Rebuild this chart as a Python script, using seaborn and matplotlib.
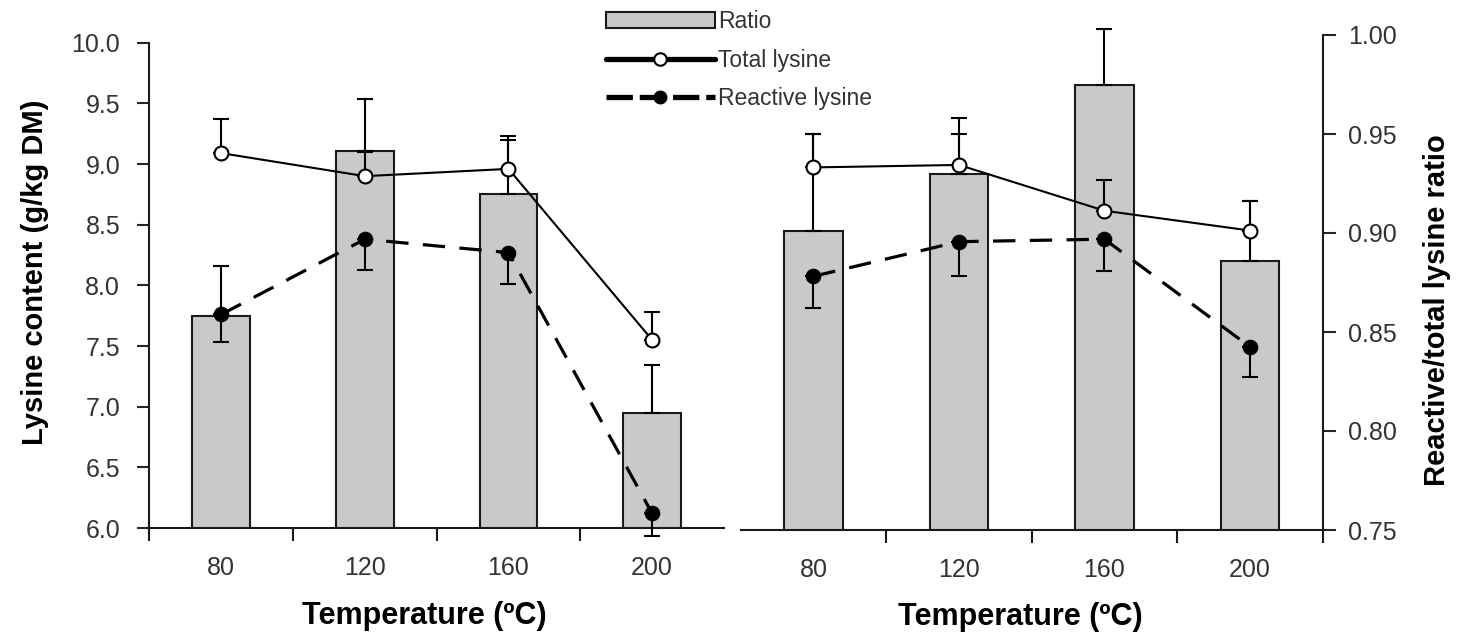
import numpy as np
import pandas as pd
import matplotlib
matplotlib.use('Agg')
import matplotlib.pyplot as plt
from matplotlib.patches import Patch
from matplotlib.lines import Line2D
import seaborn as sns

# ---- data ----
temps = ['80', '120', '160', '200']

# left panel
ratio_a = [0.859, 0.944, 0.922, 0.809]
ratio_a_err = [0.026, 0.027, 0.030, 0.025]
total_a = [9.09, 8.90, 8.96, 7.55]
total_a_err = [0.28, 0.20, 0.24, 0.23]
reactive_a = [7.76, 8.38, 8.27, 6.12]
reactive_a_err = [0.23, 0.25, 0.26, 0.19]

# right panel
ratio_b = [0.901, 0.930, 0.975, 0.886]
ratio_b_err = [0.049, 0.028, 0.028, 0.030]
total_b = [8.93, 8.95, 8.58, 8.42]
total_b_err = [0.27, 0.25, 0.25, 0.24]
reactive_b = [8.05, 8.33, 8.35, 7.48]
reactive_b_err = [0.26, 0.28, 0.26, 0.24]

sns.set_theme(style='ticks')
plt.rcParams['font.family'] = ['Liberation Sans', 'DejaVu Sans']

BAR_COLOR = '#c8c9cb'
TICK_COLOR = '#333333'
LW = 1.5

fig = plt.figure(figsize=(14.61, 6.33), dpi=100)
ax_a = fig.add_axes([149.3 / 1461, 105 / 633, 574.7 / 1461, 485.3 / 633])
ax_b = fig.add_axes([740.7 / 1461, 103 / 633, 582 / 1461, 495 / 633])


def no_clip(container):
    for art in container.get_children():
        art.set_clip_on(False)


def draw_panel(ax, ratio, ratio_err, total, total_err, reactive, reactive_err):
    pos = np.arange(len(temps))
    df = pd.DataFrame({'temp': temps, 'ratio': ratio})
    sns.barplot(data=df, x='temp', y='ratio', ax=ax, color=BAR_COLOR, saturation=1,
                edgecolor='#1a1a1a', linewidth=LW, width=0.4, errorbar=None)
    eb = ax.errorbar(pos, ratio, yerr=[np.zeros(4), ratio_err], fmt='none', ecolor='black',
                     elinewidth=LW, capsize=5.5, capthick=LW)
    no_clip(eb)
    ax.set_ylim(0.75, 1.00)
    ax.set_xlim(-0.5, 3.5)

    tw = ax.twinx()
    eb = tw.errorbar(pos, total, yerr=[np.zeros(4), total_err], fmt='none', ecolor='black',
                     elinewidth=LW, capsize=5.5, capthick=LW, zorder=2)
    no_clip(eb)
    eb = tw.errorbar(pos, reactive, yerr=[reactive_err, np.zeros(4)], fmt='none', ecolor='black',
                     elinewidth=LW, capsize=5.5, capthick=LW, zorder=2)
    no_clip(eb)
    sns.lineplot(x=pos, y=total, ax=tw, color='black', lw=1.5, marker='o', markersize=10,
                 markerfacecolor='white', markeredgecolor='black', markeredgewidth=1.5,
                 zorder=3, clip_on=False)
    sns.lineplot(x=pos, y=reactive, ax=tw, color='black', lw=2.3, linestyle=(0, (7, 4.5)),
                 marker='o', markersize=10.5, markerfacecolor='black', markeredgecolor='black',
                 zorder=3, clip_on=False)
    tw.set_ylim(6, 10)
    tw.set_xlim(-0.5, 3.5)

    ax.set_xlabel('Temperature (ºC)', fontsize=22, fontweight='bold', color='black')
    ax.set_xticks(pos, temps, minor=True)
    ax.tick_params(axis='x', which='minor', length=0, labelsize=18, labelcolor=TICK_COLOR, pad=20.5)
    ax.tick_params(axis='x', which='major', length=9, width=LW, direction='out', color='#1a1a1a')
    for s in ax.spines.values():
        s.set_linewidth(LW)
        s.set_color('#1a1a1a')
    for s in tw.spines.values():
        s.set_linewidth(LW)
        s.set_color('#1a1a1a')
    ax.spines['top'].set_visible(False)
    tw.spines['top'].set_visible(False)
    tw.spines['bottom'].set_visible(False)
    return tw


tw_a = draw_panel(ax_a, ratio_a, ratio_a_err, total_a, total_a_err, reactive_a, reactive_a_err)
tw_b = draw_panel(ax_b, ratio_b, ratio_b_err, total_b, total_b_err, reactive_b, reactive_b_err)

# left panel: lysine axis on the left, ratio axis hidden
ax_a.set_xticks([-0.5, 0.5, 1.5, 2.5], [''] * 4)
ax_a.yaxis.set_visible(False)
for side in ['left', 'right']:
    ax_a.spines[side].set_visible(False)
tw_a.spines['right'].set_visible(False)
tw_a.yaxis.set_ticks_position('left')
tw_a.yaxis.set_label_position('left')
tw_a.set_yticks(np.arange(6, 10.01, 0.5))
tw_a.yaxis.set_major_formatter(matplotlib.ticker.FormatStrFormatter('%.1f'))
tw_a.tick_params(axis='y', length=9, width=LW, labelsize=18, labelcolor=TICK_COLOR, pad=12)
tw_a.set_ylabel('Lysine content (g/kg DM)', fontsize=21, fontweight='bold', color='black')
tw_a.yaxis.set_label_coords(-0.174, 0.526)
ax_a.xaxis.set_label_coords(0.478, -0.151)

# right panel: ratio axis on the right, lysine axis hidden
ax_b.set_xticks([0.5, 1.5, 2.5, 3.5], [''] * 4)
ax_b.spines['left'].set_visible(False)
tw_b.yaxis.set_visible(False)
for side in ['left', 'right']:
    tw_b.spines[side].set_visible(False)
ax_b.yaxis.tick_right()
ax_b.yaxis.set_label_position('right')
ax_b.set_yticks(np.arange(0.75, 1.001, 0.05))
ax_b.yaxis.set_major_formatter(matplotlib.ticker.FormatStrFormatter('%.2f'))
ax_b.tick_params(axis='y', length=9, width=LW, labelsize=18, labelcolor=TICK_COLOR, pad=9)
ax_b.set_ylabel('Reactive/total lysine ratio', fontsize=21, fontweight='bold', color='black')
ax_b.yaxis.set_label_coords(1.172, 0.444)
ax_b.xaxis.set_label_coords(0.48, -0.145)

# legend
handles = [
    Patch(facecolor=BAR_COLOR, edgecolor='#1a1a1a', linewidth=LW),
    Line2D([0], [0], color='black', lw=3.8, marker='o', markersize=9,
           markerfacecolor='white', markeredgecolor='black', markeredgewidth=1.5),
    Line2D([0], [0], color='black', lw=3.8, linestyle=(0, (5, 1.3)), marker='o', markersize=9,
           markerfacecolor='black', markeredgecolor='black'),
]
fig.legend(handles, ['Ratio', 'Total lysine', 'Reactive lysine'], loc='upper left',
           bbox_to_anchor=(606 / 1461, 1 - 10 / 633), frameon=False, fontsize=16.5,
           handlelength=4.75, handleheight=0.7, handletextpad=0.15, labelspacing=0.68,
           borderpad=0, borderaxespad=0, labelcolor=TICK_COLOR)

fig.savefig('out.png', dpi=100)
